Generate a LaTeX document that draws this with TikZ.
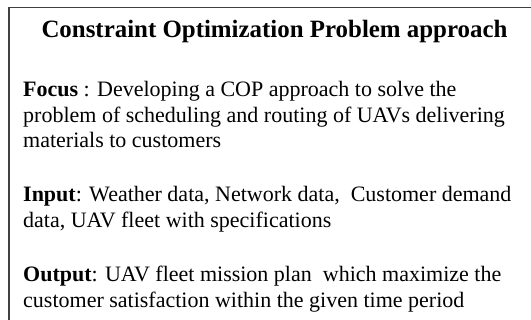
\documentclass[tikz,border=0pt]{standalone}
\usepackage{fontspec}
\setmainfont{Liberation Serif}
\newcommand\nohyphX{\hyphenpenalty=10000 \exhyphenpenalty=10000 \relax}
\begin{document}
\begin{tikzpicture}[x=1pt,y=1pt,
  para/.style={anchor=base west, inner sep=0pt, text width=494pt, align=flush left,
    font=\fontsize{22}{25.3}\selectfont\nohyphX},
  titlestyle/.style={anchor=base, inner sep=0pt, font=\fontsize{24.9}{28}\selectfont\bfseries}]
\useasboundingbox (0,0) rectangle (531,320);
\clip (0,0) rectangle (531,320);
\coordinate (bl) at (9,-5);
\coordinate (tl) at (9,312.5);
\coordinate (tr) at (540,312.5);
\draw[line width=1.4pt, black!75] (bl) -- (tl) -- (tr);
\node[titlestyle] (title) at (274.5,282) {Constraint Optimization Problem approach};
\node[para] (focus) at (23,223) {\textbf{Focus} : Developing a COP approach to solve the problem of scheduling and routing of UAVs delivering materials to customers};
\node[para] (input) at (23,118) {\textbf{Input}: Weather data, Network data,\ \ Customer demand data, UAV fleet with specifications};
\node[para] (output) at (23,38) {\textbf{Output}: UAV fleet mission plan\ \ which maximize the customer satisfaction within the given time period};
\end{tikzpicture}
\end{document}
